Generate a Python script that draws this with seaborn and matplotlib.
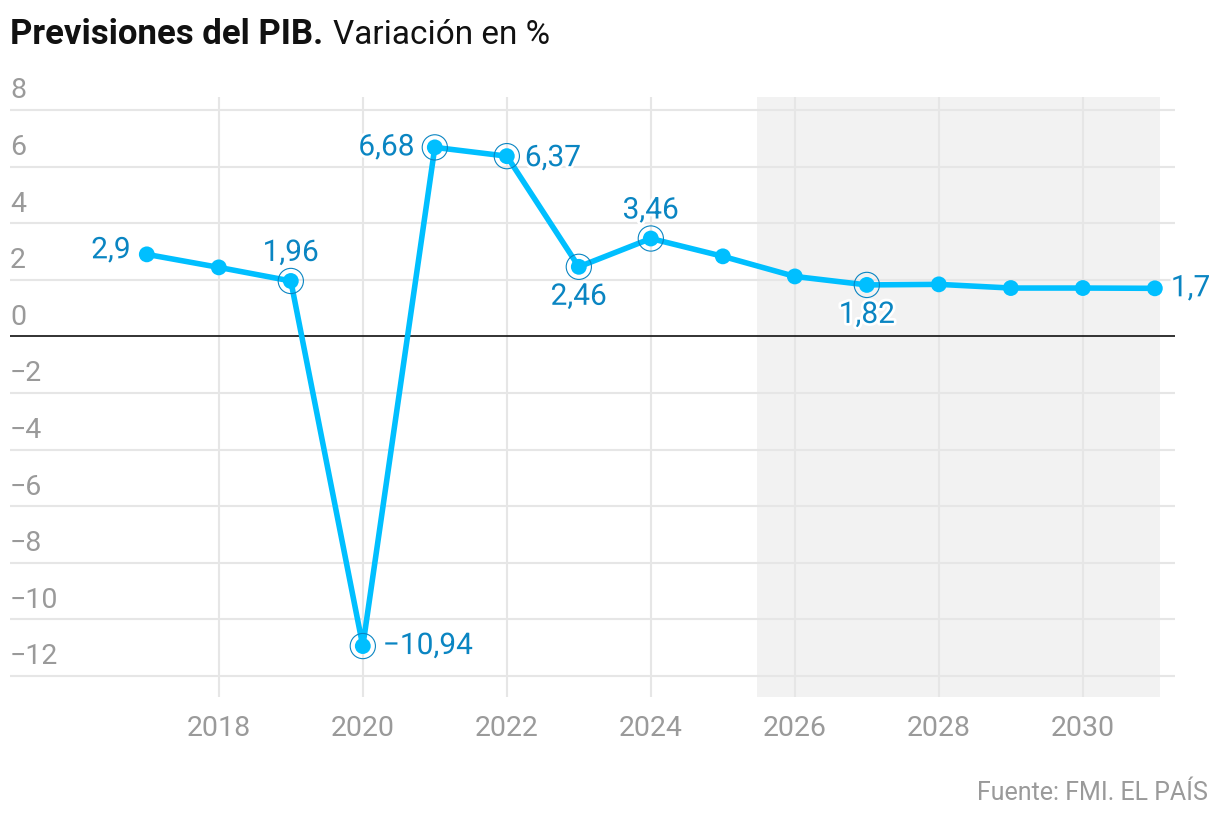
import seaborn as sns
import pandas as pd
import matplotlib.pyplot as plt
import matplotlib.patheffects as pe
from matplotlib.transforms import blended_transform_factory

years = [2017, 2018, 2019, 2020, 2021, 2022, 2023, 2024, 2025, 2026, 2027, 2028, 2029, 2030, 2031]
pib = [2.9, 2.44, 1.96, -10.94, 6.68, 6.37, 2.46, 3.46, 2.83, 2.12, 1.82, 1.84, 1.71, 1.71, 1.7]
highlight_years = [2019, 2020, 2021, 2022, 2023, 2024, 2027]
# (year, text, ha, va, dx px, dy px)
labels = [
    (2017, '2,9', 'right', 'center', -16, 4),
    (2019, '1,96', 'center', 'bottom', 0, 14),
    (2020, '\u221210,94', 'left', 'center', 20, 0),
    (2021, '6,68', 'right', 'center', -20, 0),
    (2022, '6,37', 'left', 'center', 18, -2),
    (2023, '2,46', 'center', 'top', 0, -16),
    (2024, '3,46', 'center', 'bottom', 0, 14),
    (2027, '1,82', 'center', 'top', 0, -16),
    (2031, '1,7', 'left', 'center', 16, 0),
]
yticks = [-12, -10, -8, -6, -4, -2, 0, 2, 4, 6, 8]
xticks = [2018, 2020, 2022, 2024, 2026, 2028, 2030]
forecast_start, forecast_end = 2025.47, 2031.07

LINE = '#00bfff'
LABEL = '#0a85c2'
GRAY = '#9a9a9a'

sns.set_style('white')
plt.rcParams['font.family'] = ['Roboto', 'DejaVu Sans']

df = pd.DataFrame({'year': years, 'pib': pib})
hl = df[df['year'].isin(highlight_years)]

fig = plt.figure(figsize=(12.2, 8.24), dpi=100)
ax = fig.add_axes([10 / 1220, 1 - 697 / 824, 1165 / 1220, 600 / 824])

ax.set_xlim(2015.1, 2031.28)
ax.set_ylim(-12.74, 8.46)

ax.axvspan(forecast_start, forecast_end, color='#f2f2f2', zorder=0, lw=0)
for y in yticks:
    if y == 0:
        ax.axhline(0, color='#222222', lw=1.3, zorder=2)
    else:
        ax.axhline(y, color='#e6e6e6', lw=1.5, zorder=1)
for x in xticks:
    ax.axvline(x, color='#e6e6e6', lw=1.5, zorder=1)

sns.lineplot(data=df, x='year', y='pib', ax=ax, color=LINE, lw=4, zorder=3)
sns.scatterplot(data=df, x='year', y='pib', ax=ax, color=LINE, s=130, edgecolor='none', zorder=4)
sns.scatterplot(data=hl, x='year', y='pib', ax=ax, facecolor='none', edgecolor=LABEL, s=330, linewidth=0.8, zorder=5)

halo = [pe.withStroke(linewidth=4, foreground='white')]
for yr, txt, ha, va, dx, dy in labels:
    val = pib[years.index(yr)]
    ax.annotate(txt, (yr, val), xytext=(dx * 0.72, dy * 0.72), textcoords='offset points',
                ha=ha, va=va, color=LABEL, fontsize=21.5, path_effects=halo, zorder=6)

trans = blended_transform_factory(ax.transAxes, ax.transData)
for y in yticks:
    lbl = str(y).replace('-', '\u2212')
    ax.text(0, y + 0.2, lbl, transform=trans, ha='left', va='bottom', color=GRAY, fontsize=20.5)

ax.set_xticks(xticks)
ax.set_xticklabels([str(x) for x in xticks], color=GRAY, fontsize=20.5)
ax.set_yticks([])
ax.tick_params(axis='x', length=0, pad=13)
ax.set_xlabel('')
ax.set_ylabel('')
for s in ax.spines.values():
    s.set_visible(False)

fig.text(10 / 1220, 1 - 35 / 824, 'Previsiones del PIB.', fontsize=25, fontweight='bold',
         color='#111111', va='center', ha='left')
fig.text(333 / 1220, 1 - 35 / 824, 'Variaci\u00f3n en %', fontsize=24, color='#111111', va='center', ha='left')
fig.text(1208 / 1220, 1 - 793 / 824, 'Fuente: FMI. EL PA\u00cdS', fontsize=18, color=GRAY,
         ha='right', va='center')

fig.savefig('out.png', dpi=100)
